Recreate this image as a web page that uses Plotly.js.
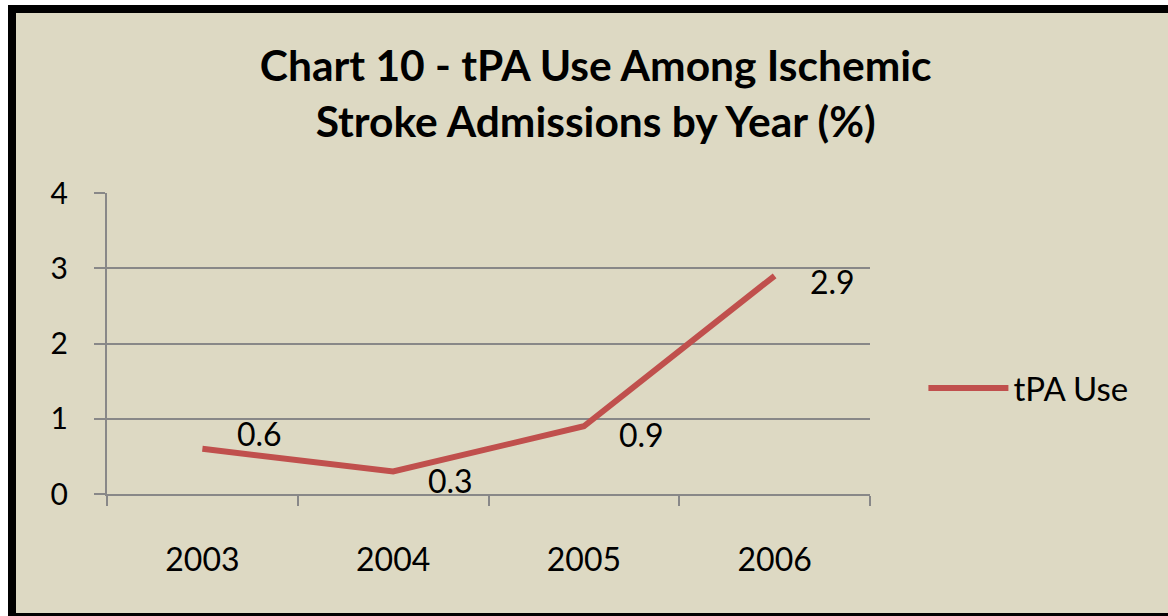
<!DOCTYPE html>
<html>
<head>
<meta charset="utf-8">
<script src="https://cdn.plot.ly/plotly-3.0.1.min.js"></script>
<style>
  body { margin: 0; background: #ffffff; }
  #wrap { position: relative; width: 1168px; height: 616px; overflow: hidden; }
  #frame {
    position: absolute; left: 8px; top: 5px; width: 1200px; height: 600px;
    background: #ddd9c3; border-left: 8px solid #000; border-top: 8px solid #000;
    border-bottom: 3px solid #000;
  }
  #chart { position: absolute; left: 0; top: 0; width: 1168px; height: 616px; }
</style>
</head>
<body>
<div id="wrap">
  <div id="frame"></div>
  <div id="chart"></div>
</div>
<script>
const years = ['2003', '2004', '2005', '2006'];
const tpaUse = [0.6, 0.3, 0.9, 2.9];
const seriesName = 'tPA Use';
const yTicks = [0, 1, 2, 3, 4];

// label nudges (px), Excel put them right of the points
const labelShiftY = [15, -9, -8, -6];

const RED = '#c0504d';
const GRID = '#888888';
const FONT = 'Lato, "Open Sans", sans-serif';

const data = [{
  type: 'scatter',
  mode: 'lines',
  name: seriesName,
  x: years,
  y: tpaUse,
  line: { color: RED, width: 6 },
  hoverinfo: 'x+y',
}];

// category axis: annotations take the category index
const annotations = years.map((yr, i) => ({
  x: i, y: tpaUse[i], xref: 'x', yref: 'y',
  text: String(tpaUse[i]), showarrow: false,
  xanchor: 'left', yanchor: 'middle', xshift: 33, yshift: labelShiftY[i],
  font: { family: FONT, size: 32, color: '#000' },
}));

const layout = {
  width: 1168,
  height: 616,
  paper_bgcolor: 'rgba(0,0,0,0)',
  plot_bgcolor: 'rgba(0,0,0,0)',
  margin: { l: 107, r: 298, t: 193, b: 122 },
  font: { family: FONT, color: '#000' },
  title: {
    text: '<b>Chart 10 - tPA Use Among Ischemic<br>Stroke Admissions by Year (%)</b>',
    font: { family: FONT, size: 42.5, color: '#000' },
    x: 0.51, xanchor: 'center',
    y: 0.868, yanchor: 'middle',
  },
  xaxis: {
    type: 'category',
    range: [-0.5, 3.5],
    showgrid: false,
    showline: true, linecolor: GRID, linewidth: 2,
    ticks: 'outside', tickson: 'boundaries', ticklen: 10, tickwidth: 2, tickcolor: GRID,
    ticklabelstandoff: 37,
    tickfont: { family: FONT, size: 32, color: '#000' },
    fixedrange: true,
  },
  yaxis: {
    range: [0, 4],
    tickvals: yTicks,
    showgrid: true, gridcolor: GRID, gridwidth: 2,
    zeroline: false,
    showline: true, linecolor: GRID, linewidth: 2,
    ticks: 'outside', ticklen: 11, tickwidth: 2, tickcolor: GRID,
    ticklabelstandoff: 20,
    tickfont: { family: FONT, size: 30, color: '#000' },
    fixedrange: true,
  },
  showlegend: true,
  legend: {
    x: 1.07, xanchor: 'left', y: 0.352, yanchor: 'middle',
    bgcolor: 'rgba(0,0,0,0)',
    font: { family: FONT, size: 33, color: '#000' },
    itemwidth: 80,
  },
  annotations: annotations,
};

Plotly.newPlot('chart', data, layout, { displayModeBar: false, staticPlot: true });
</script>
</body>
</html>
